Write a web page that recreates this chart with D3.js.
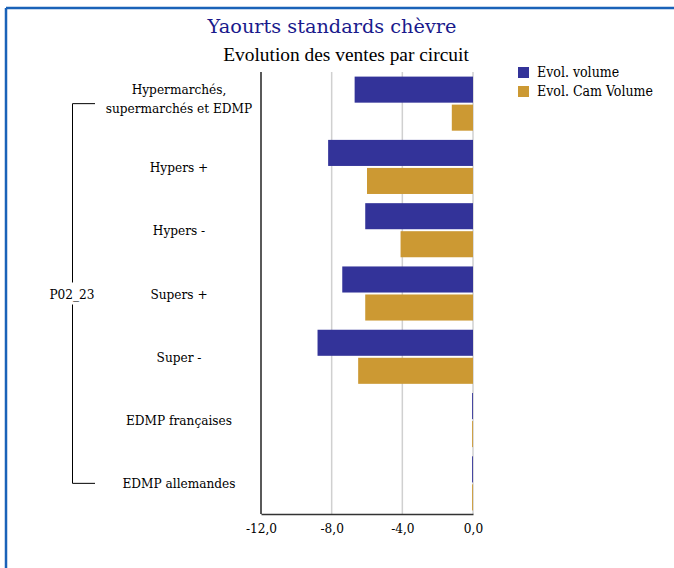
<!DOCTYPE html>
<html><head><meta charset="utf-8">
<script src="https://cdn.jsdelivr.net/npm/d3@7"></script>
<style>
body{margin:0;background:#fff;}
svg{display:block;}
text{font-family:"DejaVu Serif Condensed","DejaVu Serif",serif;font-stretch:condensed;}
</style></head>
<body><svg id="c" width="674" height="568"></svg>
<script>
const categories = [["Hypermarchés,","supermarchés et EDMP"],["Hypers +"],["Hypers -"],["Supers +"],["Super -"],["EDMP françaises"],["EDMP allemandes"]];
const seriesNames = ["Evol. volume","Evol. Cam Volume"];
const evolVolume = [-6.7, -8.2, -6.1, -7.4, -8.8, -0.05, -0.05];
const evolCamVolume = [-1.2, -6.0, -4.1, -6.1, -6.5, -0.05, -0.05];
const tickValues = [-12, -8, -4, 0];
const groupLabel = "P02_23";
const colors = ["#333399", "#CC9933"];

const svg = d3.select("#c");
// frame
svg.append("line").attr("x1",6).attr("x2",674).attr("y1",8).attr("y2",8).attr("stroke","#1a62b8").attr("stroke-width",2.5);
svg.append("line").attr("x1",6).attr("x2",6).attr("y1",8).attr("y2",568).attr("stroke","#1a62b8").attr("stroke-width",2.5);

svg.append("text").attr("x",332).attr("y",33).attr("text-anchor","middle")
  .style("font-family","'DejaVu Serif',serif").style("font-stretch","normal")
  .style("font-size","19.3px").attr("fill","#1a1a8c").text("Yaourts standards chèvre");
svg.append("text").attr("x",346).attr("y",61).attr("text-anchor","middle")
  .style("font-family","'Liberation Serif',serif").style("font-stretch","normal")
  .style("font-size","19.4px").attr("fill","#000").text("Evolution des ventes par circuit");

const x = d3.scaleLinear().domain([-12,0]).range([261,473]);
const y = d3.scaleBand().domain(d3.range(categories.length)).range([72,515]);
const inner = d3.scaleBand().domain([0,1]).range([4.6, y.bandwidth()-4.6]).paddingInner(0.07);

const g = svg.append("g");
// gridlines
g.selectAll(".grid").data(tickValues.slice(1)).join("line")
  .attr("x1",d=>x(d)).attr("x2",d=>x(d)).attr("y1",72).attr("y2",514)
  .attr("stroke","#d0d0d0").attr("stroke-width",1.5);

const data = categories.map((c,i)=>[evolVolume[i], evolCamVolume[i]]);
data.forEach((vals,i)=>{
  vals.forEach((v,j)=>{
    g.append("rect").attr("x",x(v)).attr("width",x(0)-x(v))
      .attr("y",y(i)+inner(j)).attr("height",inner.bandwidth())
      .attr("fill",colors[j]);
  });
});

// axes
const xAxis = d3.axisBottom(x).tickValues(tickValues).tickSize(0).tickPadding(9)
  .tickFormat(d=>d3.format(".1f")(d).replace(".",",").replace("−","-"));
const ax = svg.append("g").attr("transform","translate(0,514)").call(xAxis);
ax.select(".domain").attr("stroke","#333").attr("stroke-width",1.5);
ax.selectAll("text").style("font-size","13.5px").attr("fill","#000");
svg.append("line").attr("x1",261).attr("x2",261).attr("y1",72).attr("y2",514).attr("stroke","#000").attr("stroke-width",1.3);

// category labels
categories.forEach((c,i)=>{
  const cy = y(i)+y.bandwidth()/2;
  const t = svg.append("text").attr("x",179).attr("text-anchor","middle").style("font-size","13.5px").attr("fill","#000");
  if(c.length===1){ t.attr("y",cy+5).text(c[0]); }
  else {
    c.forEach((line,k)=>t.append("tspan").attr("x",179).attr("y",cy-5+(k*19)- (c.length-1)*4.5).text(line));
  }
});

// group bracket
const yTop = y(0)+y.bandwidth()/2, yBot = y(categories.length-1)+y.bandwidth()/2;
const yMid = (yTop+yBot)/2;
const br = svg.append("g").attr("stroke","#000").attr("stroke-width",1).attr("fill","none");
br.append("path").attr("d",`M95,${yTop}H72.5V${yMid-11}`);
br.append("path").attr("d",`M95,${yBot}H72.5V${yMid+11}`);
svg.append("text").attr("x",72).attr("y",yMid+5).attr("text-anchor","middle").style("font-size","13.5px").attr("fill","#000").text(groupLabel);

// legend
seriesNames.forEach((s,i)=>{
  svg.append("rect").attr("x",518).attr("y",67+i*19).attr("width",11).attr("height",11).attr("fill",colors[i]);
  svg.append("text").attr("x",537).attr("y",77+i*19).style("font-size","14px").attr("fill","#000").text(s);
});
</script></body></html>
